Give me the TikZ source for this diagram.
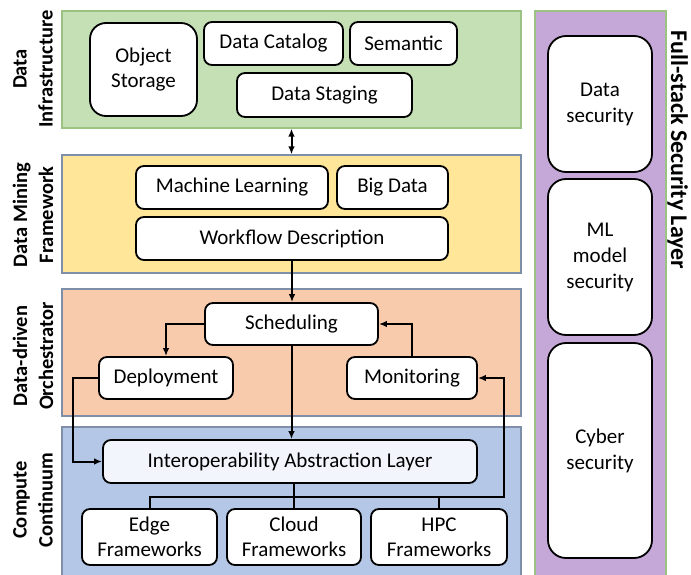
\documentclass[tikz,border=0pt]{standalone}
\usepackage{fontspec}
\setmainfont{Carlito}
\usetikzlibrary{arrows.meta}
\definecolor{lgreen}{HTML}{C5E0B4}
\definecolor{lyellow}{HTML}{FFE699}
\definecolor{lorange}{HTML}{F8CBAD}
\definecolor{lblue}{HTML}{B4C7E7}
\definecolor{lpurple}{HTML}{C5A8D8}
\definecolor{edgegray}{HTML}{7F8FA9}
\definecolor{edgegreen}{HTML}{9CC283}
\definecolor{iopfill}{HTML}{F2F5FB}
\begin{document}
\begin{tikzpicture}[x=1pt,y=-1pt,
 layer/.style={draw=edgegray, line width=1.2pt, minimum width=459pt, inner sep=0pt},
 box/.style={draw=black, fill=white, line width=1.8pt, rounded corners=8pt, inner sep=0pt,
   font=\fontsize{21}{25}\selectfont, align=center},
 secbox/.style={box, rounded corners=18pt, minimum width=104pt, font=\fontsize{21}{26}\selectfont},
 lab/.style={font=\fontsize{20.5}{26}\selectfont\bfseries, align=center, rotate=90},
 conn/.style={line width=2pt, draw=black},
 arr/.style={conn, -{Latex[length=8pt,width=6.5pt]}},
 darr/.style={conn, {Latex[length=8pt,width=6.5pt]}-{Latex[length=8pt,width=6.5pt]}},
]
\useasboundingbox (0,0) rectangle (691,575);
% layers
\node[layer, fill=lgreen, draw=edgegreen, minimum height=117pt] (L1) at (291.5,69.5) {};
\node[layer, fill=lyellow, minimum height=118pt] (L2) at (291.5,214) {};
\node[layer, fill=lorange, minimum height=127pt] (L3) at (291.5,352.5) {};
\node[layer, fill=lblue, minimum height=153pt] (L4) at (291.5,503.5) {};
\node[draw=edgegreen, fill=lpurple, line width=1.2pt, minimum width=131pt, minimum height=569pt, inner sep=0pt] (L5) at (600.5,295.5) {};
% layer labels
\node[lab] (t1) at (33,69) {Data\\Infrastructure};
\node[lab] (t2) at (33,215) {Data Mining\\Framework};
\node[lab] (t3) at (33,356) {Data-driven\\Orchestrator};
\node[lab] (t4) at (33,500) {Compute\\Continuum};
\node[font=\fontsize{24}{30}\selectfont\bfseries, rotate=-90, anchor=base] (t5) at (671,150) {Full-stack Security Layer};
% data infrastructure
\node[box, rounded corners=16pt, minimum width=107pt, minimum height=93pt] (obj) at (143.5,69.5) {Object\\Storage};
\node[box, minimum width=139pt, minimum height=43pt] (cat) at (273.5,43.5) {Data Catalog};
\node[box, minimum width=107pt, minimum height=43pt] (sem) at (403.5,43.5) {Semantic};
\node[box, minimum width=175pt, minimum height=44pt] (stg) at (324.5,95) {Data Staging};
% data mining
\node[box, minimum width=192pt, minimum height=43pt] (ml) at (232,187.5) {Machine Learning};
\node[box, minimum width=111pt, minimum height=43pt] (bd) at (392.5,187.5) {Big Data};
\node[box, minimum width=312pt, minimum height=43pt] (wf) at (292,238.5) {Workflow Description};
% orchestrator
\node[box, minimum width=173pt, minimum height=42pt] (sch) at (291.5,324) {Scheduling};
\node[box, minimum width=134pt, minimum height=42pt] (dep) at (166,378) {Deployment};
\node[box, minimum width=130pt, minimum height=42pt] (mon) at (412,378) {Monitoring};
% compute continuum
\node[box, fill=iopfill, minimum width=374pt, minimum height=43pt] (iop) at (290,461.5) {Interoperability Abstraction Layer};
\node[box, minimum width=135pt, minimum height=56pt] (edge) at (149.5,537) {Edge\\Frameworks};
\node[box, minimum width=134pt, minimum height=56pt] (cloud) at (294,537) {Cloud\\Frameworks};
\node[box, minimum width=136pt, minimum height=56pt] (hpc) at (439,537) {HPC\\Frameworks};
% security
\node[secbox, minimum height=136pt] (sec1) at (600,104) {Data\\security};
\node[secbox, minimum height=156pt] (sec2) at (600,257) {ML\\model\\security};
\node[secbox, minimum height=215pt] (sec3) at (600,450.5) {Cyber\\security};
% connectors
\draw[darr] (L1.south) -- (L2.north);
\draw[arr] (wf.south) -- (wf.south |- sch.north);
\draw[arr] (sch.west) -| (dep.north);
\draw[arr] (mon.north) |- (sch.east);
\draw[arr] (sch.south) -- (sch.south |- iop.north);
\coordinate (dl) at (73,378);
\draw[arr] (dep.west) -- (dl) |- (iop.west);
\coordinate (bus) at (504,497);
\draw[arr] (edge.north) |- (bus) |- (mon.east);
\draw[conn] (hpc.north) -- (hpc.north |- bus);
\draw[conn] (cloud.north) -- (cloud.north |- iop.south);
\end{tikzpicture}
\end{document}
